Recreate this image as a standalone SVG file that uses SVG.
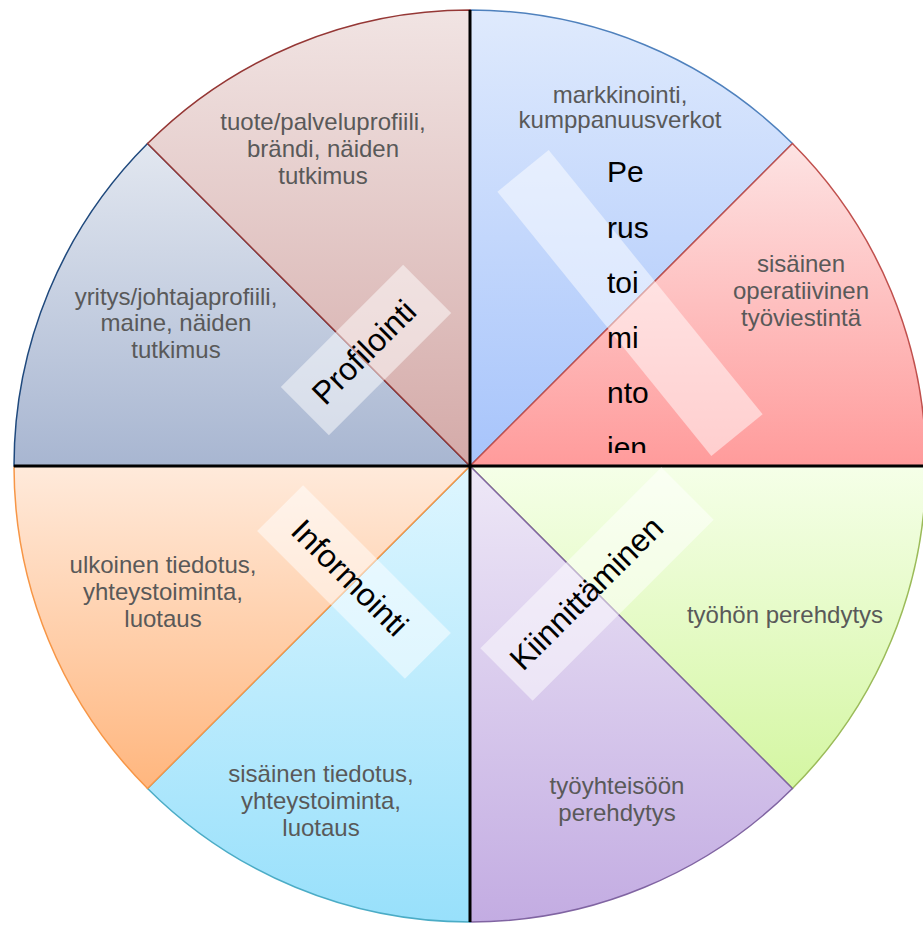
<svg xmlns="http://www.w3.org/2000/svg" width="923" height="925" viewBox="0 0 923 925">
  <style>
    .sec { stroke-width: 1.5; }
    .st { font-family: "Liberation Sans", Arial, sans-serif; font-size: 24px; fill: #595959; text-anchor: middle; }
    .lb { font-family: "Liberation Sans", Arial, sans-serif; font-size: 30px; fill: #000000; }
    .lbr { font-family: "Liberation Sans", Arial, sans-serif; font-size: 32px; fill: #000000; text-anchor: middle; }
    .box { fill: #ffffff; fill-opacity: 0.5; }
    .axis { stroke: #000000; stroke-width: 3; fill: none; }
  </style>
  <defs>
    <linearGradient id="gBlue" x1="0" y1="0" x2="0" y2="1"><stop offset="0" stop-color="#dfeafd"/><stop offset="1" stop-color="#a7c4fb"/></linearGradient>
    <linearGradient id="gRed" x1="0" y1="0" x2="0" y2="1"><stop offset="0" stop-color="#fde3e3"/><stop offset="1" stop-color="#ff9b9b"/></linearGradient>
    <linearGradient id="gGreen" x1="0" y1="0" x2="0" y2="1"><stop offset="0" stop-color="#f5ffe8"/><stop offset="1" stop-color="#d4f6a2"/></linearGradient>
    <linearGradient id="gPurple" x1="0" y1="0" x2="0" y2="1"><stop offset="0" stop-color="#eee8f7"/><stop offset="1" stop-color="#c3ace2"/></linearGradient>
    <linearGradient id="gCyan" x1="0" y1="0" x2="0" y2="1"><stop offset="0" stop-color="#def6ff"/><stop offset="1" stop-color="#98e0fb"/></linearGradient>
    <linearGradient id="gOrange" x1="0" y1="0" x2="0" y2="1"><stop offset="0" stop-color="#ffeadb"/><stop offset="1" stop-color="#ffb67e"/></linearGradient>
    <linearGradient id="gGrey" x1="0" y1="0" x2="0" y2="1"><stop offset="0" stop-color="#e2e7f0"/><stop offset="1" stop-color="#a8b6d1"/></linearGradient>
    <linearGradient id="gRose" x1="0" y1="0" x2="0" y2="1"><stop offset="0" stop-color="#f1e4e3"/><stop offset="1" stop-color="#d4aaa8"/></linearGradient>
    <clipPath id="clipPeru"><rect x="590" y="140" width="90" height="313"/></clipPath>
  </defs>

  <g id="sector-markkinointi">
    <path class="sec" d="M470,466 L470,10 A456,456 0 0 1 792.44,143.56 Z" fill="url(#gBlue)" stroke="#4f81bd"/>
    <text class="st"><tspan x="620" y="103">markkinointi,</tspan><tspan x="620" y="128">kumppanuusverkot</tspan></text>
  </g>
  <g id="sector-sisainen-operatiivinen">
    <path class="sec" d="M470,466 L792.44,143.56 A456,456 0 0 1 926,466 Z" fill="url(#gRed)" stroke="#c0504d"/>
    <text class="st"><tspan x="801" y="272">sisäinen</tspan><tspan x="801" y="299">operatiivinen</tspan><tspan x="801" y="326">työviestintä</tspan></text>
  </g>
  <g id="sector-tyohon-perehdytys">
    <path class="sec" d="M470,466 L926,466 A456,456 0 0 1 792.44,788.44 Z" fill="url(#gGreen)" stroke="#9bbb59"/>
    <text class="st"><tspan x="785" y="623">työhön perehdytys</tspan></text>
  </g>
  <g id="sector-tyoyhteisoon">
    <path class="sec" d="M470,466 L792.44,788.44 A456,456 0 0 1 470,922 Z" fill="url(#gPurple)" stroke="#8064a2"/>
    <text class="st"><tspan x="617" y="794">työyhteisöön</tspan><tspan x="617" y="821">perehdytys</tspan></text>
  </g>
  <g id="sector-sisainen-tiedotus">
    <path class="sec" d="M470,466 L470,922 A456,456 0 0 1 147.56,788.44 Z" fill="url(#gCyan)" stroke="#4bacc6"/>
    <text class="st"><tspan x="321" y="782">sisäinen tiedotus,</tspan><tspan x="321" y="809">yhteystoiminta,</tspan><tspan x="321" y="836">luotaus</tspan></text>
  </g>
  <g id="sector-ulkoinen-tiedotus">
    <path class="sec" d="M470,466 L147.56,788.44 A456,456 0 0 1 14,466 Z" fill="url(#gOrange)" stroke="#f79646"/>
    <text class="st"><tspan x="163" y="573">ulkoinen tiedotus,</tspan><tspan x="163" y="600">yhteystoiminta,</tspan><tspan x="163" y="627">luotaus</tspan></text>
  </g>
  <g id="sector-yritysprofiili">
    <path class="sec" d="M470,466 L14,466 A456,456 0 0 1 147.56,143.56 Z" fill="url(#gGrey)" stroke="#1f497d"/>
    <text class="st"><tspan x="176" y="305">yritys/johtajaprofiili,</tspan><tspan x="176" y="331">maine, näiden</tspan><tspan x="176" y="358">tutkimus</tspan></text>
  </g>
  <g id="sector-tuoteprofiili">
    <path class="sec" d="M470,466 L147.56,143.56 A456,456 0 0 1 470,10 Z" fill="url(#gRose)" stroke="#953735"/>
    <text class="st"><tspan x="323" y="130">tuote/palveluprofiili,</tspan><tspan x="323" y="157">brändi, näiden</tspan><tspan x="323" y="184">tutkimus</tspan></text>
  </g>

  <g id="connectors">
    <line class="axis" x1="470" y1="10" x2="470" y2="922"/>
    <line class="axis" x1="14" y1="466" x2="923" y2="466"/>
  </g>

  <g id="label-profilointi" transform="translate(366,350) rotate(-45)">
    <rect class="box" x="-86.5" y="-34" width="173" height="68"/>
    <text class="lbr" x="-3" y="11">Profilointi</text>
  </g>
  <g id="label-informointi" transform="translate(354,582) rotate(45)">
    <rect class="box" x="-104.5" y="-32.5" width="209" height="65"/>
    <text class="lbr" x="-6" y="11">Informointi</text>
  </g>
  <g id="label-kiinnittaminen" transform="translate(597,584) rotate(-45)">
    <rect class="box" x="-128" y="-37" width="256" height="74"/>
    <text class="lbr" x="-14" y="10">Kiinnittäminen</text>
  </g>
  <g id="label-perustoimintojen">
    <rect class="box" x="-170" y="-33" width="340" height="66" transform="translate(630,303) rotate(51)"/>
    <g clip-path="url(#clipPeru)">
      <text class="lb"><tspan x="607" y="182">Pe</tspan><tspan x="607" y="238">rus</tspan><tspan x="607" y="293">toi</tspan><tspan x="607" y="348">mi</tspan><tspan x="607" y="403">nto</tspan><tspan x="607" y="458">ien</tspan></text>
    </g>
  </g>
</svg>
